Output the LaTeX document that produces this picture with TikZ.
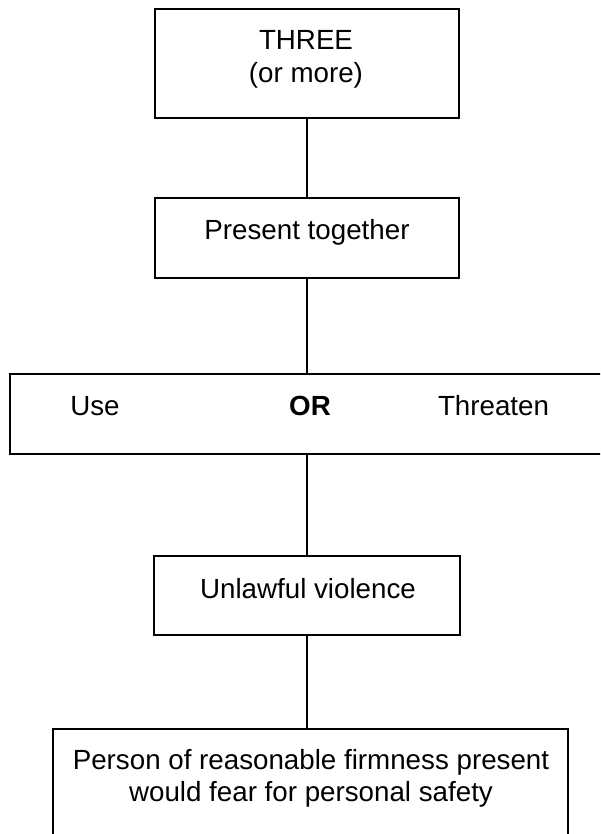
\documentclass[tikz,border=0pt]{standalone}
\usepackage{fontspec}
\setmainfont{Liberation Sans}
\begin{document}
\begin{tikzpicture}[x=0.75pt,y=-0.75pt,
  box/.style={draw=black,line width=1.2pt,inner sep=0pt,outer sep=0pt,rectangle},
  txt/.style={anchor=base,inner sep=0pt,font=\fontsize{20.8}{24.75}\selectfont},
  conn/.style={draw=black,line width=1.2pt}]
\useasboundingbox (0,0) rectangle (600,834);
\clip (0,0) rectangle (600,834);
\node[box,minimum width=228pt,minimum height=81.75pt] (b1) at (307,63.5) {};
\node[box,minimum width=228pt,minimum height=60pt] (b2) at (307,238) {};
\node[box,minimum width=450pt,minimum height=60pt] (b3) at (310,414) {};
\node[box,minimum width=229.5pt,minimum height=59.25pt] (b4) at (307,595.5) {};
\node[box,minimum width=386.25pt,minimum height=83.25pt] (b5) at (310.5,784.5) {};
\node[txt] (t1a) at (306,49.3) {THREE};
\node[txt] (t1b) at (306,82.5) {(or more)};
\node[txt] (t2) at (307,239) {Present together};
\node[txt] (t3a) at (95,415) {Use};
\node[txt,font=\fontsize{20.8}{24.75}\selectfont\bfseries] (t3b) at (310,415) {OR};
\node[txt] (t3c) at (493.5,415) {Threaten};
\node[txt] (t4) at (308,598) {Unlawful violence};
\node[txt] (t5a) at (311,769) {Person of reasonable firmness present};
\node[txt] (t5b) at (311,801.5) {would fear for personal safety};
\draw[conn] (b1.south) -- (b2.north);
\draw[conn] (b2.south) -- (b2.south |- b3.north);
\draw[conn] (b2.south |- b3.south) -- (b4.north);
\draw[conn] (b4.south) -- (b4.south |- b5.north);
\end{tikzpicture}
\end{document}
